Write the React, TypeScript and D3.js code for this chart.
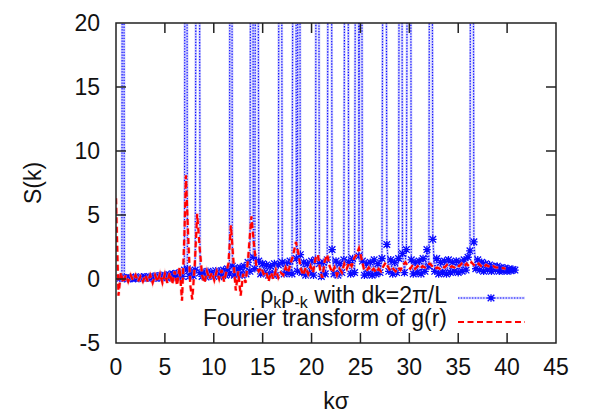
import React from "react";
import * as d3 from "d3";

const xTicks = [0, 5, 10, 15, 20, 25, 30, 35, 40, 45];
const yTicks = [-5, 0, 5, 10, 15, 20];

// Fourier transform of g(r): [k, S]
const ftData: [number, number][] = [
  [0, 6.3], [0.25, -1.3], [0.5, 0.5], [0.75, -0.3], [1.0, 0.3], [1.25, -0.2], [1.5, 0.3], [1.75, -0.1],
  [2.0, 0.3], [2.25, -0.2], [2.5, 0.2], [2.75, -0.2], [3.0, 0.3], [3.25, -0.2], [3.5, 0.3], [3.75, -0.3],
  [4.0, 0.3], [4.25, -0.2], [4.5, 0.4], [4.75, -0.3], [5.0, 0.4], [5.25, -0.3], [5.5, 0.5], [5.75, -0.4],
  [6.0, 0.6], [6.25, -0.5], [6.5, 0.9], [6.75, -1.7], [7.0, 3.5], [7.15, 8.1], [7.4, 3.0], [7.6, -0.5],
  [7.8, -1.6], [8.05, 1.0], [8.3, 5.1], [8.55, 2.5], [8.8, 0.3], [9.05, -0.3], [9.3, 0.6], [9.55, 0.0],
  [9.8, 0.5], [10.05, -0.1], [10.3, 0.6], [10.55, 0.0], [10.8, 0.7], [11.05, -0.2], [11.3, 0.6], [11.5, 1.2],
  [11.75, 4.2], [12.0, 1.5], [12.25, -0.9], [12.5, 0.6], [12.75, -1.3], [13.0, 0.4], [13.25, -0.3], [13.5, 1.5],
  [13.85, 4.9], [14.1, 2.8], [14.35, 1.0], [14.6, 0.6], [14.85, 0.9], [15.1, 0.4], [15.35, 0.6], [15.6, -0.2],
  [15.85, 0.5], [16.1, 0.0], [16.35, 0.7], [16.6, 0.1], [16.85, 0.5], [17.1, 0.3], [17.35, 0.9], [17.6, 0.5],
  [17.85, 1.2], [18.1, 1.8], [18.4, 2.9], [18.65, 2.0], [18.9, 0.8], [19.15, 0.3], [19.4, 0.9], [19.65, 0.4],
  [19.9, 1.0], [20.15, 0.5], [20.4, 1.6], [20.65, 1.9], [20.9, 0.6], [21.1, 0.1], [21.35, 1.4], [21.6, 1.9],
  [21.85, 1.0], [22.1, 0.5], [22.35, 0.9], [22.6, 0.3], [22.85, 0.8], [23.1, 0.5], [23.35, 1.2], [23.6, 0.8],
  [23.85, 1.3], [24.1, 1.0], [24.35, 1.6], [24.6, 1.9], [24.85, 2.4], [25.1, 1.6], [25.35, 0.8], [25.6, 0.6],
  [25.85, 0.9], [26.1, 0.6], [26.35, 0.8], [26.6, 0.5], [26.85, 0.8], [27.1, 0.6], [27.35, 1.0], [27.6, 1.3],
  [27.85, 0.9], [28.1, 0.6], [28.35, 0.8], [28.6, 0.6], [28.85, 0.9], [29.1, 0.7], [29.35, 1.1], [29.6, 1.3],
  [29.85, 1.0], [30.1, 0.8], [30.35, 1.1], [30.6, 0.8], [30.85, 1.0], [31.1, 0.8], [31.35, 1.0], [31.6, 0.9],
  [31.85, 1.1], [32.1, 1.2], [32.35, 1.0], [32.6, 0.8], [32.85, 0.9], [33.1, 0.8], [33.35, 1.0], [33.6, 0.9],
  [33.85, 1.1], [34.1, 0.9], [34.35, 1.0], [34.6, 0.9], [34.85, 1.1], [35.1, 1.0], [35.35, 1.2], [35.6, 1.0],
  [35.85, 1.2], [36.1, 1.0], [36.35, 1.3], [36.6, 1.1], [36.85, 1.0], [37.1, 1.2], [37.35, 1.0], [37.6, 0.9],
  [37.85, 1.1], [38.1, 1.0], [38.35, 0.9], [38.6, 1.0], [38.85, 0.9], [39.1, 0.9], [39.35, 0.85], [39.6, 0.85],
  [39.85, 0.8],
];

// rho_k rho_-k with dk = 2pi/L: [k, S] (spikes go far above the plotted range)
const rhoData: [number, number][] = [
  [0.4, 0.05], [0.6, 0.1], [0.72, 90], [0.85, 0.05], [1.0, 0.1], [1.2, 0.0], [1.4, 0.12], [1.6, 0.05],
  [1.8, 0.15], [2.0, 0.02], [2.2, 0.12], [2.4, 0.05], [2.6, 0.18], [2.8, 0.04], [3.0, 0.15], [3.2, 0.06],
  [3.4, 0.2], [3.6, 0.05], [3.8, 0.22], [4.0, 0.08], [4.2, 0.25], [4.4, 0.06], [4.6, 0.28], [4.8, 0.1],
  [5.0, 0.3], [5.2, 0.08], [5.4, 0.35], [5.6, 0.1], [5.8, 0.4], [6.0, 0.12], [6.2, 0.45], [6.4, 0.15],
  [6.6, 0.5], [6.8, 0.2], [7.0, 0.7], [7.16, 90], [7.3, 0.8], [7.5, 0.2], [7.7, 0.6], [7.9, 0.25],
  [8.1, 0.7], [8.39, 90], [8.6, 0.5], [8.8, 0.2], [9.0, 0.55], [9.2, 0.15], [9.4, 0.6], [9.6, 0.25],
  [9.8, 0.5], [10.0, 0.2], [10.2, 0.65], [10.4, 0.3], [10.6, 0.6], [10.8, 0.2], [11.0, 0.7], [11.2, 0.3],
  [11.4, 0.8], [11.6, 0.4], [11.76, 90], [11.9, 1.0], [12.1, 0.3], [12.3, 0.8], [12.5, 0.35], [12.7, 0.9],
  [12.9, 0.3], [13.1, 1.0], [13.3, 0.4], [13.5, 1.3], [13.7, 0.6], [13.9, 90], [14.05, 1.7], [14.2, 0.8],
  [14.4, 90], [14.6, 1.4], [14.8, 0.4], [15.0, 1.2], [15.2, 0.5], [15.4, 1.1], [15.6, 0.3], [15.8, 1.0],
  [16.0, 0.4], [16.2, 1.2], [16.4, 0.3], [16.6, 1.1], [16.8, 90], [17.0, 1.3], [17.2, 0.4], [17.4, 1.2],
  [17.6, 0.5], [17.8, 1.4], [18.0, 0.4], [18.3, 90], [18.45, 1.6], [18.55, 0.6], [18.7, 90], [18.85, 1.9],
  [19.0, 0.5], [19.2, 1.3], [19.4, 0.3], [19.6, 1.2], [19.8, 0.5], [20.0, 1.4], [20.2, 0.3], [20.4, 1.5],
  [20.6, 90], [20.8, 1.2], [21.0, 0.2], [21.2, 1.3], [21.4, 0.4], [21.6, 1.5], [21.9, 90], [22.1, 2.3],
  [22.3, 0.4], [22.5, 1.4], [22.7, 0.3], [22.9, 1.2], [23.1, 0.5], [23.3, 1.5], [23.6, 90], [23.8, 1.3],
  [24.0, 0.4], [24.2, 1.6], [24.4, 0.5], [24.7, 90], [24.85, 1.8], [25.0, 90], [25.2, 1.4], [25.4, 0.3],
  [25.6, 1.2], [25.8, 0.4], [26.0, 1.3], [26.2, 0.3], [26.4, 1.5], [26.6, 0.4], [26.8, 1.2], [27.0, 0.5],
  [27.2, 1.6], [27.5, 90], [27.7, 2.7], [27.9, 0.6], [28.1, 1.5], [28.3, 0.4], [28.5, 1.3], [28.7, 0.5],
  [28.9, 1.6], [29.1, 90], [29.3, 2.0], [29.5, 0.5], [29.7, 2.3], [30.0, 90], [30.2, 1.5], [30.4, 0.4],
  [30.6, 1.3], [30.8, 0.5], [31.0, 1.4], [31.2, 0.4], [31.4, 1.6], [31.6, 0.6], [31.8, 2.3], [32.0, 1.0],
  [32.2, 90], [32.4, 3.1], [32.6, 0.6], [32.8, 1.6], [33.0, 0.4], [33.2, 1.3], [33.4, 0.5], [33.6, 1.4],
  [33.8, 0.4], [34.0, 1.5], [34.2, 0.5], [34.4, 1.3], [34.6, 0.6], [34.8, 1.4], [35.0, 0.5], [35.2, 1.3],
  [35.4, 0.6], [35.6, 1.5], [35.8, 0.7], [36.0, 1.7], [36.2, 2.2], [36.4, 90], [36.6, 2.9], [36.8, 0.8],
  [37.0, 1.5], [37.2, 0.7], [37.4, 1.3], [37.6, 0.6], [37.8, 1.2], [38.0, 0.7], [38.2, 1.1], [38.4, 0.6],
  [38.6, 1.0], [38.8, 0.7], [39.0, 1.0], [39.2, 0.6], [39.4, 0.9], [39.6, 0.65], [39.8, 0.85], [40.0, 0.6],
  [40.2, 0.8], [40.4, 0.65], [40.6, 0.75], [40.8, 0.7],
];

const W = 589;
const H = 413;
const left = 116;
const right = 556;
const top = 23;
const bottom = 343;
const FONT = "'Liberation Sans', Arial, sans-serif";
const BLUE = "#0a0aff";
const BLUE_HALO = "#a8a8ff";
const RED = "#ff0000";
const RED_HALO = "#ffb0b0";
const star = "M-3.3,-3.3L3.3,3.3M-3.3,3.3L3.3,-3.3M0,-3.8L0,3.8M-3.8,0L3.8,0";

export default function App() {
  const x = d3.scaleLinear().domain([0, 45]).range([left, right]);
  const y = d3.scaleLinear().domain([-5, 20]).range([bottom, top]);
  const line = d3
    .line<[number, number]>()
    .x((d) => x(d[0]))
    .y((d) => y(d[1]));
  const tickLen = 10;

  return (
    <svg
      width={W}
      height={H}
      style={{ position: "absolute", left: 0, top: 0, background: "#fff" }}
      fontFamily={FONT}
    >
      <defs>
        <clipPath id="plotclip">
          <rect x={left} y={top} width={right - left} height={bottom - top} />
        </clipPath>
      </defs>

      <g clipPath="url(#plotclip)">
        <path d={line(rhoData) || ""} fill="none" stroke={BLUE_HALO} strokeWidth={2.6} opacity={0.55} />
        <path
          d={line(rhoData) || ""}
          fill="none"
          stroke={BLUE}
          strokeWidth={1.2}
          strokeDasharray="1.3,1.5"
        />
        {rhoData.map((d, i) => (
          <path
            key={i}
            d={star}
            transform={`translate(${x(d[0])},${y(d[1])})`}
            stroke={BLUE}
            strokeWidth={1.3}
            fill="none"
          />
        ))}
        <path
          d={line(ftData) || ""}
          fill="none"
          stroke={RED_HALO}
          strokeWidth={3.4}
          strokeDasharray="6,3.5"
          opacity={0.6}
        />
        <path
          d={line(ftData) || ""}
          fill="none"
          stroke={RED}
          strokeWidth={2.2}
          strokeDasharray="6,3.5"
        />
      </g>

      {/* frame */}
      <rect
        x={left}
        y={top}
        width={right - left}
        height={bottom - top}
        fill="none"
        stroke="#222"
        strokeWidth={1.5}
      />

      {/* x ticks */}
      {xTicks.map((t) => (
        <g key={"x" + t}>
          {t > 0 && t < 45 && (
            <>
              <line x1={x(t)} x2={x(t)} y1={bottom} y2={bottom - tickLen} stroke="#222" strokeWidth={1.5} />
              <line x1={x(t)} x2={x(t)} y1={top} y2={top + tickLen} stroke="#222" strokeWidth={1.5} />
            </>
          )}
          <text x={x(t)} y={375} textAnchor="middle" fontSize={23} fill="#111">
            {t}
          </text>
        </g>
      ))}

      {/* y ticks */}
      {yTicks.map((t) => (
        <g key={"y" + t}>
          {t > -5 && t < 20 && (
            <>
              <line x1={left} x2={left + tickLen} y1={y(t)} y2={y(t)} stroke="#222" strokeWidth={1.5} />
              <line x1={right} x2={right - tickLen} y1={y(t)} y2={y(t)} stroke="#222" strokeWidth={1.5} />
            </>
          )}
          <text x={100} y={y(t) + 8} textAnchor="end" fontSize={23} fill="#111">
            {t}
          </text>
        </g>
      ))}

      {/* axis labels */}
      <text x={(left + right) / 2} y={409} textAnchor="middle" fontSize={23} fill="#111">
        kσ
      </text>
      <text
        transform={`translate(41,183) rotate(-90)`}
        textAnchor="middle"
        fontSize={23}
        fill="#111"
      >
        S(k)
      </text>

      {/* legend */}
      <text x={447} y={303} textAnchor="end" fontSize={23} fill="#111">
        ρ<tspan fontSize={16} dy={5}>k</tspan>
        <tspan dy={-5}>ρ</tspan>
        <tspan fontSize={16} dy={5}>-k</tspan>
        <tspan dy={-5}> with dk=2π/L</tspan>
      </text>
      <line x1={458} x2={525} y1={298} y2={298} stroke={BLUE_HALO} strokeWidth={2.6} opacity={0.55} />
      <line x1={458} x2={525} y1={298} y2={298} stroke={BLUE} strokeWidth={1.2} strokeDasharray="1.3,1.5" />
      <path d={star} transform="translate(491,298)" stroke={BLUE} strokeWidth={1.3} fill="none" />

      <text x={447} y={326} textAnchor="end" fontSize={23} fill="#111">
        Fourier transform of g(r)
      </text>
      <line x1={458} x2={525} y1={322} y2={322} stroke={RED} strokeWidth={2.2} strokeDasharray="6,3.5" />
    </svg>
  );
}
